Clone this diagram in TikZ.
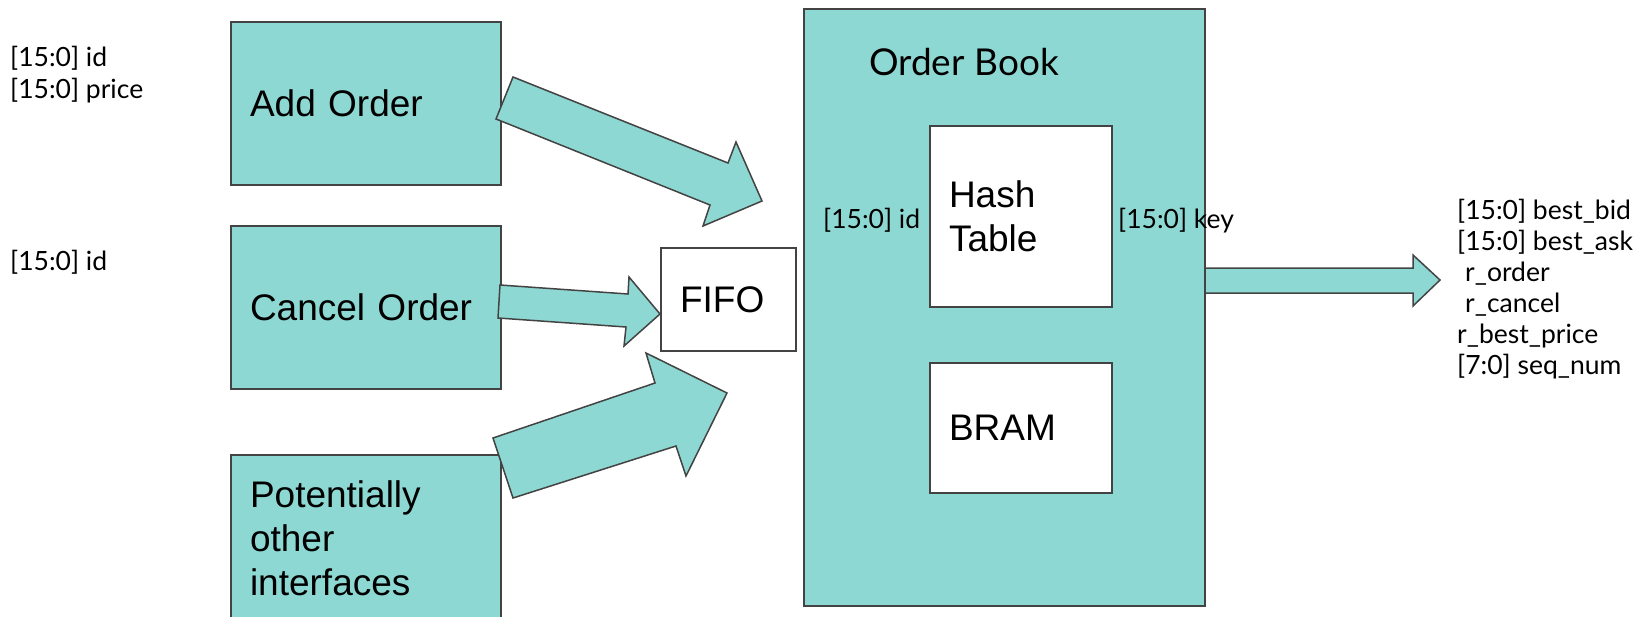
\documentclass[tikz,border=0pt]{standalone}
\usepackage{fontspec}
\setmainfont{Liberation Sans}
\newfontfamily\lblfont{Lato}
\definecolor{tealfill}{RGB}{142,216,211}
\definecolor{edgegray}{RGB}{67,67,67}
\begin{document}
\begin{tikzpicture}[x=1pt,y=-1pt,
  box/.style={draw=edgegray, line width=2pt, fill=tealfill, inner xsep=19pt, inner ysep=0pt,
              align=left, font=\fontsize{37}{44}\selectfont, anchor=north west},
  wbox/.style={box, fill=white},
  lbl/.style={font=\lblfont\fontsize{26.5}{31}\selectfont, inner sep=0pt, anchor=base west, align=left},
  blockarrow/.style={draw=edgegray, line width=1.5pt, fill=tealfill, line join=miter}
]
\useasboundingbox (0,0) rectangle (1647,616);
\clip (0,0) rectangle (1647,616);

% input boxes
\node[box, text width=232pt, minimum height=163pt] (add) at (230,21) {Add Order};
\node[box, text width=232pt, minimum height=163pt] (cancel) at (230,225) {Cancel Order};
\node[box, text width=232pt, minimum height=166pt] (other) at (230,454) {Potentially\\other\\interfaces};

% order book
\node[box, minimum width=401pt, minimum height=597pt, inner sep=0pt] (ob) at (803,8) {};
\node[lbl, font=\lblfont\fontsize{37}{44}\selectfont] (obt) at (869,75) {Order Book};
\node[wbox, text width=144pt, minimum height=181pt] (hash) at (929,125) {Hash\\Table};
\node[wbox, text width=144pt, minimum height=130pt] (bram) at (929,362) {BRAM};
\node[lbl] (idin) at (823,228) {[15:0] id};
\node[lbl] (keyout) at (1118,228) {[15:0] key};

% fifo
\node[wbox, text width=97pt, minimum height=103pt] (fifo) at (660,247) {FIFO};

% left labels (base anchor = last line)
\node[lbl, font=\lblfont\fontsize{26.5}{32}\selectfont] (addsig) at (10,98) {[15:0] id\\{}[15:0] price};
\node[lbl] (cancelsig) at (10,270) {[15:0] id};

% right labels (base anchor = last line)
\node[lbl] (outsig) at (1457,374) {[15:0] best\_bid\\{}[15:0] best\_ask\\\hspace*{8pt}r\_order\\\hspace*{8pt}r\_cancel\\r\_best\_price\\{}[7:0] seq\_num};

% block arrows
\draw[blockarrow] (513,77) -- (728,163) -- (736,142) -- (762,201) -- (703,226) -- (710,205) -- (496,119) -- cycle;
\draw[blockarrow] (500,285) -- (628,294) -- (629,277) -- (660,314) -- (624,346) -- (626,327) -- (498,318) -- cycle;
\draw[blockarrow] (493,438) -- (655,383) -- (646,353) -- (727,393) -- (686,476) -- (676,446) -- (513,498) -- cycle;
\draw[blockarrow] (ob.east |- 0,268) -- (1413,268) -- (1413,255) -- (1440,280) -- (1413,306) -- (1413,293) -- (ob.east |- 0,293);
\end{tikzpicture}
\end{document}
